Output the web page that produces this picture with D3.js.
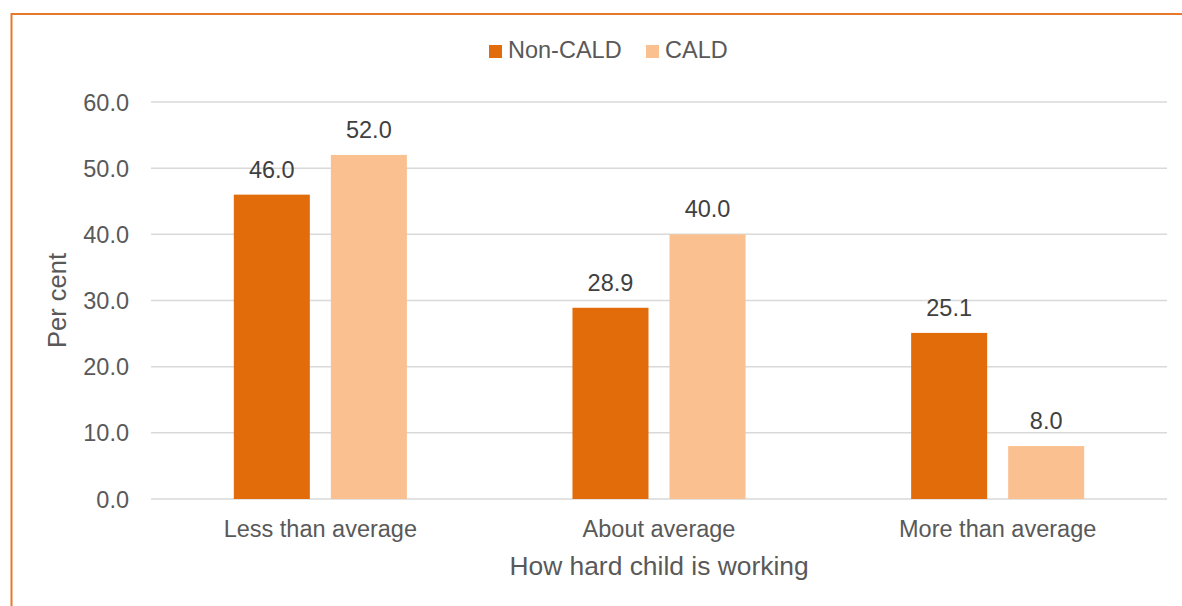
<!DOCTYPE html>
<html>
<head>
<meta charset="utf-8">
<script src="https://cdn.jsdelivr.net/npm/d3@7"></script>
<style>
  body { margin: 0; background: #fff; }
  text { font-family: "Liberation Sans", Arial, sans-serif; }
</style>
</head>
<body>
<script>
// data
const categories = ['Less than average', 'About average', 'More than average'];
const seriesNames = ['Non-CALD', 'CALD'];
const nonCald = [46.0, 28.9, 25.1];
const cald = [52.0, 40.0, 8.0];
const yTicks = [0, 10, 20, 30, 40, 50, 60];

const colors = {'Non-CALD': '#E36C0A', 'CALD': '#FAC090'};

const outerWidth = 1182;
const outerHeight = 606;
const margin = {top: 102, left: 151, bottom: 107, right: 15};
const width = outerWidth - margin.left - margin.right;
const height = outerHeight - margin.top - margin.bottom;

const rows = categories.map((c, i) => ({category: c, values: [
    {key: 'Non-CALD', value: nonCald[i]},
    {key: 'CALD', value: cald[i]}
]}));

const root = d3.select('body')
  .append('svg')
  .attr('width', outerWidth)
  .attr('height', outerHeight);

// orange frame round the chart (runs off right and bottom)
root.append('rect')
  .attr('x', 11.5)
  .attr('y', 14)
  .attr('width', 1300)
  .attr('height', 800)
  .attr('fill', 'none')
  .attr('stroke', '#E8782A')
  .attr('stroke-width', 2);

const svg = root.append('g')
  .attr('transform', `translate(${margin.left}, ${margin.top})`);

const x0 = d3.scaleBand()
  .domain(categories)
  .range([0, width])
  .paddingInner(0.489)
  .paddingOuter(0.2445);

const x1 = d3.scaleBand()
  .domain(seriesNames)
  .range([0, x0.bandwidth()])
  .paddingInner(0.2165);

const yScale = d3.scaleLinear()
  .domain([0, 60])
  .range([height, 0]);

// gridlines
svg.selectAll('.grid')
  .data(yTicks)
  .enter()
  .append('line')
  .attr('x1', 0)
  .attr('x2', width)
  .attr('y1', d => yScale(d))
  .attr('y2', d => yScale(d))
  .attr('stroke', '#D9D9D9')
  .attr('stroke-width', 1.5);

// y tick labels
svg.selectAll('.ytick')
  .data(yTicks)
  .enter()
  .append('text')
  .attr('x', -22)
  .attr('y', d => yScale(d) + 8.5)
  .attr('text-anchor', 'end')
  .attr('font-size', 23.5)
  .attr('fill', '#595959')
  .text(d => d.toFixed(1));

const groups = svg.selectAll('.group')
  .data(rows)
  .enter()
  .append('g')
  .attr('transform', d => `translate(${x0(d.category)}, 0)`);

groups.selectAll('rect')
  .data(d => d.values)
  .enter()
  .append('rect')
  .attr('x', d => x1(d.key))
  .attr('y', d => yScale(d.value))
  .attr('width', x1.bandwidth())
  .attr('height', d => height - yScale(d.value))
  .attr('fill', d => colors[d.key]);

groups.selectAll('.label')
  .data(d => d.values)
  .enter()
  .append('text')
  .attr('x', d => x1(d.key) + x1.bandwidth() / 2)
  .attr('y', d => yScale(d.value) - 17)
  .attr('text-anchor', 'middle')
  .attr('font-size', 23.5)
  .attr('fill', '#404040')
  .text(d => d.value.toFixed(1));

// category labels
svg.selectAll('.xtick')
  .data(categories)
  .enter()
  .append('text')
  .attr('x', d => x0(d) + x0.bandwidth() / 2)
  .attr('y', height + 38)
  .attr('text-anchor', 'middle')
  .attr('font-size', 23.5)
  .attr('fill', '#595959')
  .text(d => d);

// axis titles
svg.append('text')
  .attr('x', width / 2)
  .attr('y', height + 76)
  .attr('text-anchor', 'middle')
  .attr('font-size', 26.4)
  .attr('fill', '#595959')
  .text('How hard child is working');

svg.append('text')
  .attr('transform', `translate(${66 - margin.left}, ${height / 2}) rotate(-90)`)
  .attr('text-anchor', 'middle')
  .attr('font-size', 25.5)
  .attr('fill', '#595959')
  .text('Per cent');

// legend
const legendX = [489, 646];
const legend = root.selectAll('.legend')
  .data(seriesNames)
  .enter()
  .append('g')
  .attr('transform', (d, i) => `translate(${legendX[i]}, 45)`);

legend.append('rect')
  .attr('width', 13)
  .attr('height', 13)
  .attr('fill', d => colors[d]);

legend.append('text')
  .attr('x', 19)
  .attr('y', 13)
  .attr('font-size', 23.5)
  .attr('fill', '#595959')
  .text(d => d);
</script>
</body>
</html>
